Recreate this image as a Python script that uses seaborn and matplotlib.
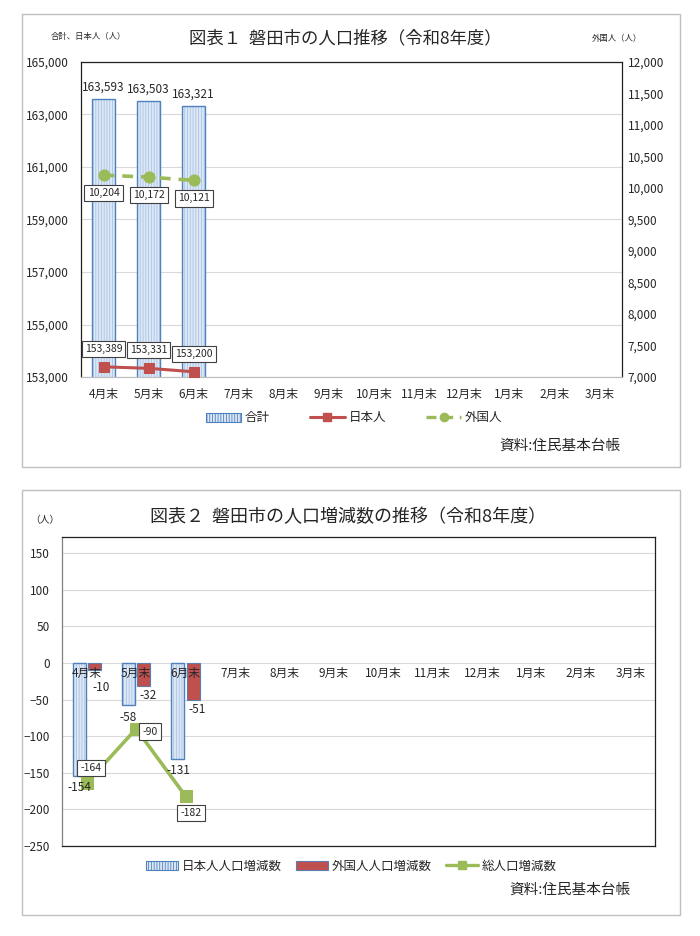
import numpy as np
import pandas as pd
import matplotlib
matplotlib.use('Agg')
import matplotlib.pyplot as plt
import seaborn as sns
from matplotlib.patches import Rectangle, Patch
from matplotlib.lines import Line2D
import matplotlib.ticker as mticker

# ---------------- data ----------------
months = ['4月末', '5月末', '6月末', '7月末', '8月末', '9月末',
          '10月末', '11月末', '12月末', '1月末', '2月末', '3月末']
data_months = ['4月末', '5月末', '6月末']
total_pop = [163593, 163503, 163321]
japanese_pop = [153389, 153331, 153200]
foreign_pop = [10204, 10172, 10121]
jp_change = [-154, -58, -131]
fr_change = [-10, -32, -51]
total_change = [-164, -90, -182]

left_ticks = [153000, 155000, 157000, 159000, 161000, 163000, 165000]
right_ticks = [7000, 7500, 8000, 8500, 9000, 9500, 10000, 10500, 11000, 11500, 12000]
bottom_ticks = [-250, -200, -150, -100, -50, 0, 50, 100, 150]

# ---------------- style ----------------
sns.set_theme(style='white')
plt.rcParams['font.family'] = ['Noto Sans CJK JP', 'DejaVu Sans']
plt.rcParams['hatch.linewidth'] = 0.6
TXT = '#262626'
BLUE_FACE = '#dde8f6'
BLUE_HATCH = '#a9c3e6'
BLUE_EDGE = '#4f81bd'
RED = '#c0504d'
GREEN = '#9bbb59'
GRID = '#d9d9d9'

fig = plt.figure(figsize=(7, 9.36), dpi=100)

# outer boxes
fig.patches.append(Rectangle((0.0314, 0.5011), 0.940, 0.4839, transform=fig.transFigure,
                             fill=False, ec='#bfbfbf', lw=1.0))
fig.patches.append(Rectangle((0.0314, 0.0224), 0.940, 0.4541, transform=fig.transFigure,
                             fill=False, ec='#bfbfbf', lw=1.0))

idx = [months.index(m) for m in data_months]


def style_hatched(ax, patches):
    for p in patches:
        p.set_facecolor(BLUE_FACE)
        p.set_edgecolor(BLUE_HATCH)
        p.set_hatch('||||||')
        p.set_linewidth(0)
        ax.add_patch(Rectangle((p.get_x(), p.get_y()), p.get_width(), p.get_height(),
                               fill=False, ec=BLUE_EDGE, lw=1.0, zorder=p.get_zorder() + 0.1))


# ================= Chart 1 =================
ax1 = fig.add_axes([0.1157, 0.5972, 0.7729, 0.3366])
df1 = pd.DataFrame({'month': data_months, 'total': total_pop})
sns.barplot(data=df1, x='month', y='total', order=months, width=0.5, color=BLUE_FACE, ax=ax1)
bars1 = list(ax1.patches)
style_hatched(ax1, bars1)

sns.lineplot(x=idx, y=japanese_pop, ax=ax1, color=RED, marker='s', markersize=7,
             lw=2.2, markeredgecolor=RED, zorder=5)

ax1.set_xlim(-0.5, 11.5)
ax1.set_ylim(153000, 165000)
ax1.set_yticks(left_ticks)
ax1.yaxis.set_major_formatter(mticker.StrMethodFormatter('{x:,.0f}'))
ax1.set_xticks(range(len(months)))
ax1.set_xticklabels(months)
ax1.set_xlabel('')
ax1.set_ylabel('')
ax1.yaxis.grid(True, color=GRID, lw=0.8)
ax1.set_axisbelow(True)
ax1.tick_params(axis='y', labelsize=8.5, pad=9, length=0, colors=TXT)
ax1.tick_params(axis='x', labelsize=8.5, pad=8, length=0, colors=TXT)
for s in ax1.spines.values():
    s.set_color('#202020')
    s.set_linewidth(0.9)
ax1.spines['bottom'].set_color('#bfbfbf')

# bar labels
for p, v in zip(bars1, total_pop):
    ax1.annotate(f'{v:,}', (p.get_x() + p.get_width() / 2, v), xytext=(0, 4),
                 textcoords='offset points', ha='center', va='bottom', fontsize=8.5, color=TXT)
# japanese labels
for x, v in zip(idx, japanese_pop):
    ax1.annotate(f'{v:,}', (x, v), xytext=(0, 13), textcoords='offset points',
                 ha='center', va='center', fontsize=7.5, color=TXT, zorder=8,
                 bbox=dict(boxstyle='square,pad=0.3', fc='white', ec='#404040', lw=0.8))

ax2 = ax1.twinx()
sns.lineplot(x=idx, y=foreign_pop, ax=ax2, color=GREEN, marker='o', markersize=8,
             lw=2.6, markeredgecolor=GREEN, zorder=5)
ax2.lines[0].set_dashes([3, 2.2])
ax2.set_ylim(7000, 12000)
ax2.set_yticks(right_ticks)
ax2.yaxis.set_major_formatter(mticker.StrMethodFormatter('{x:,.0f}'))
ax2.set_ylabel('')
ax2.grid(False)
ax2.tick_params(axis='y', labelsize=8.5, pad=4, length=0, colors=TXT)
for s in ax2.spines.values():
    s.set_visible(False)
for x, v in zip(idx, foreign_pop):
    ax2.annotate(f'{v:,}', (x, v), xytext=(0, -13), textcoords='offset points',
                 ha='center', va='center', fontsize=7.5, color=TXT, zorder=8,
                 bbox=dict(boxstyle='square,pad=0.3', fc='white', ec='#404040', lw=0.8))
ax1.set_xlim(-0.5, 11.5)

fig.text(0.493, 0.9594, '図表１  磐田市の人口推移（令和8年度）', ha='center', va='center',
         fontsize=12.5, color=TXT)
fig.text(0.126, 0.9605, '合計、日本人（人）', ha='center', va='center', fontsize=6, color=TXT)
fig.text(0.881, 0.9594, '外国人（人）', ha='center', va='center', fontsize=6, color=TXT)

h1 = [Patch(facecolor=BLUE_FACE, edgecolor=BLUE_HATCH, hatch='||||||', lw=0),
      Line2D([], [], color=RED, marker='s', markersize=6, lw=2.2),
      Line2D([], [], color=GREEN, marker='o', markersize=6, lw=2.4, dashes=[3, 2])]
leg1 = fig.legend(h1, ['合計', '日本人', '外国人'], loc='center',
                  bbox_to_anchor=(0.506, 1 - 418 / 936), ncol=3, frameon=False,
                  fontsize=9, handlelength=2.8, columnspacing=3.2, handletextpad=0.3)
for t in leg1.get_texts():
    t.set_color(TXT)
leg1.legend_handles[0].set_edgecolor(BLUE_EDGE)
leg1.legend_handles[0].set_linewidth(0.8)
fig.text(620 / 700, 1 - 446 / 936, '資料:住民基本台帳', ha='right', va='center',
         fontsize=10.5, color=TXT)

# ================= Chart 2 =================
ax3 = fig.add_axes([0.0886, 0.0962, 0.8471, 0.3301])
df2 = pd.DataFrame({
    'month': data_months * 2,
    'type': ['日本人人口増減数'] * 3 + ['外国人人口増減数'] * 3,
    'value': jp_change + fr_change,
})
hue_order = ['日本人人口増減数', '外国人人口増減数']
sns.barplot(data=df2, x='month', y='value', hue='type', order=months, hue_order=hue_order,
            palette=[BLUE_FACE, RED], width=0.62, gap=0.15, ax=ax3, legend=False)
jp_bars = list(ax3.containers[0])
fr_bars = list(ax3.containers[1])
style_hatched(ax3, jp_bars)
for p in fr_bars:
    p.set_facecolor(RED)
    p.set_edgecolor('#5b7db1')
    p.set_linewidth(0.8)

sns.lineplot(x=idx, y=total_change, ax=ax3, color=GREEN, marker='s', markersize=8,
             lw=2.6, markeredgecolor=GREEN, zorder=5)

ax3.set_xlim(-0.5, 11.5)
ax3.set_ylim(-250, 172)
ax3.set_yticks(bottom_ticks)
ax3.set_xticks([])
ax3.set_xlabel('')
ax3.set_ylabel('')
ax3.yaxis.grid(True, color=GRID, lw=0.8)
ax3.set_axisbelow(True)
ax3.tick_params(axis='y', labelsize=8.5, pad=9, length=0, colors=TXT)
for s in ax3.spines.values():
    s.set_color('#202020')
    s.set_linewidth(0.9)
ax3.spines['left'].set_color('#808080')

for i, m in enumerate(months):
    ax3.annotate(m, (i, 0), xytext=(0, -3), textcoords='offset points', ha='center',
                 va='top', fontsize=8.5, color=TXT, zorder=6)
for p, v in zip(jp_bars, jp_change):
    ax3.annotate(f'{v}', (p.get_x() + p.get_width() / 2, v), xytext=(0, -4),
                 textcoords='offset points', ha='center', va='top', fontsize=8.5, color=TXT, zorder=6)
fr_offs = [(5, -8), (3, -2), (3, -2)]
for p, v, o in zip(fr_bars, fr_change, fr_offs):
    ax3.annotate(f'{v}', (p.get_x() + p.get_width() / 2, v), xytext=o,
                 textcoords='offset points', ha='center', va='top', fontsize=8.5, color=TXT, zorder=6)
offs = [(3, 11), (10, -2), (4, -12)]
for x, v, o in zip(idx, total_change, offs):
    ax3.annotate(f'{v}', (x, v), xytext=o, textcoords='offset points', ha='center',
                 va='center', fontsize=7.5, color=TXT, zorder=8,
                 bbox=dict(boxstyle='square,pad=0.3', fc='white', ec='#404040', lw=0.8))

fig.text(0.497, 1 - 517 / 936, '図表２  磐田市の人口増減数の推移（令和8年度）', ha='center',
         va='center', fontsize=13, color=TXT)
fig.text(45 / 700, 1 - 520 / 936, '（人）', ha='center', va='center', fontsize=7, color=TXT)

h2 = [Patch(facecolor=BLUE_FACE, edgecolor=BLUE_HATCH, hatch='||||||', lw=0),
      Patch(facecolor=RED, edgecolor='#5b7db1', lw=0.8),
      Line2D([], [], color=GREEN, marker='s', markersize=6, lw=2.4)]
leg2 = fig.legend(h2, hue_order + ['総人口増減数'], loc='center',
                  bbox_to_anchor=(0.502, 1 - 866 / 936), ncol=3, frameon=False,
                  fontsize=9, handlelength=2.5, columnspacing=1.2, handletextpad=0.3)
for t in leg2.get_texts():
    t.set_color(TXT)
leg2.legend_handles[0].set_edgecolor(BLUE_EDGE)
leg2.legend_handles[0].set_linewidth(0.8)
fig.text(630 / 700, 1 - 890 / 936, '資料:住民基本台帳', ha='right', va='center',
         fontsize=10.5, color=TXT)

fig.savefig('out.png', dpi=100)
